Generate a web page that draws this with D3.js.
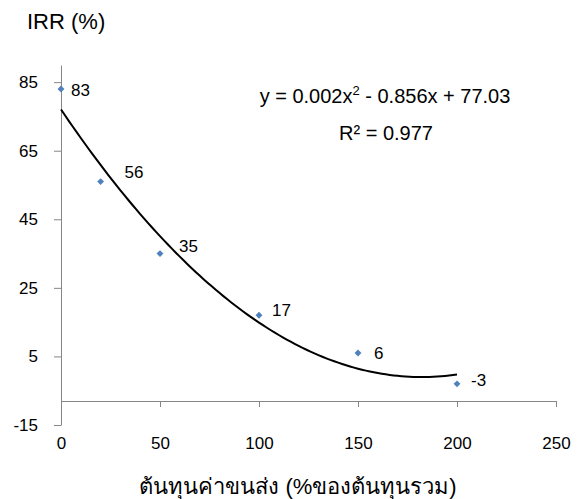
<!DOCTYPE html>
<html>
<head>
<meta charset="utf-8">
<script src="https://cdn.jsdelivr.net/npm/d3@7"></script>
<style>
  html, body { margin: 0; padding: 0; background: #fff; }
  svg { display: block; font-family: "Liberation Sans", Arial, sans-serif; }
  .tick text { fill: #000; }
</style>
</head>
<body>
<svg id="chart" width="581" height="499"></svg>
<script>
// cost share of transport (% of total cost) vs IRR
const costShare = [0, 20, 50, 100, 150, 200];
const irr = [83, 56, 35, 17, 6, -3];
const pointLabels = ["83", "56", "35", "17", "6", "-3"];
const xTicks = [0, 50, 100, 150, 200, 250];
const yTicks = [-15, 5, 25, 45, 65, 85];
const equationText = "y = 0.002x";
const equationRest = " - 0.856x + 77.03";
const r2Text = "R² = 0.977";

// label nudges (px) as placed in the original
const labelNudge = [[10, 1], [24, -10], [19, -8], [13, -5], [16, 0], [14, -4]];

const axisColor = "#868686";
const svg = d3.select("#chart");

const x = d3.scaleLinear().domain([0, 250]).range([61, 556]);
const y = d3.scaleLinear().domain([-15, 90]).range([425, 65]);
const xAxisAt = -8;

// quadratic least squares fit, same as the spreadsheet trendline
function polyFit(xs, ys) {
  const S = (f) => d3.sum(xs, (v, i) => f(v, ys[i]));
  const n = xs.length;
  const s1 = S((a) => a), s2 = S((a) => a * a), s3 = S((a) => a ** 3), s4 = S((a) => a ** 4);
  const t0 = S((a, b) => b), t1 = S((a, b) => a * b), t2 = S((a, b) => a * a * b);
  const M = [[n, s1, s2, t0], [s1, s2, s3, t1], [s2, s3, s4, t2]];
  for (let i = 0; i < 3; i++) {
    for (let k = i + 1; k < 3; k++) {
      const f = M[k][i] / M[i][i];
      for (let j = i; j < 4; j++) M[k][j] -= f * M[i][j];
    }
  }
  const c = [0, 0, 0];
  for (let i = 2; i >= 0; i--) {
    let s = M[i][3];
    for (let j = i + 1; j < 3; j++) s -= M[i][j] * c[j];
    c[i] = s / M[i][i];
  }
  return c;
}

const coef = polyFit(costShare, irr);
const trend = d3.range(0, 200.5, 2).map((v) => [v, coef[0] + coef[1] * v + coef[2] * v * v]);

//=== axes ===
const yAxis = svg.append("g")
  .attr("transform", `translate(${x(0)},0)`)
  .call(d3.axisLeft(y).tickValues(yTicks).tickFormat((d) => String(d))
    .tickSize(7).tickPadding(16).tickSizeOuter(0));
yAxis.select(".domain").attr("stroke", axisColor);
yAxis.selectAll(".tick line").attr("stroke", axisColor);
yAxis.selectAll("text").attr("font-size", 17);

const xAxis = svg.append("g")
  .attr("transform", `translate(0,${y(xAxisAt)})`)
  .call(d3.axisBottom(x).tickValues(xTicks).tickFormat((d) => String(d))
    .tickSize(6).tickPadding(30).tickSizeOuter(0));
xAxis.select(".domain").attr("stroke", axisColor);
xAxis.selectAll(".tick line").attr("stroke", axisColor);
xAxis.selectAll("text").attr("font-size", 17);

//=== trendline ===
svg.append("path")
  .datum(trend)
  .attr("fill", "none")
  .attr("stroke", "#000")
  .attr("stroke-width", 2)
  .attr("d", d3.line().x((d) => x(d[0])).y((d) => y(d[1])).curve(d3.curveMonotoneX));

//=== points ===
svg.append("g")
  .selectAll("path")
  .data(costShare)
  .join("path")
  .attr("d", d3.symbol(d3.symbolDiamond2, 30))
  .attr("transform", (d, i) => `translate(${x(d)},${y(irr[i])})`)
  .attr("fill", "#4f81bd");

svg.append("g")
  .selectAll("text")
  .data(costShare)
  .join("text")
  .attr("x", (d, i) => x(d) + labelNudge[i][0])
  .attr("y", (d, i) => y(irr[i]) + labelNudge[i][1])
  .attr("dy", "0.35em")
  .attr("font-size", 17)
  .text((d, i) => pointLabels[i]);

//=== equation ===
const eq = svg.append("text")
  .attr("x", 385)
  .attr("y", 103)
  .attr("text-anchor", "middle")
  .attr("font-size", 20);
eq.append("tspan").text(equationText);
eq.append("tspan").attr("dy", -8).attr("font-size", 13).text("2");
eq.append("tspan").attr("dy", 8).text(equationRest);

svg.append("text")
  .attr("x", 386)
  .attr("y", 140)
  .attr("text-anchor", "middle")
  .attr("font-size", 20)
  .text(r2Text);

//=== titles ===
svg.append("text")
  .attr("x", 27)
  .attr("y", 29)
  .attr("font-size", 22)
  .text("IRR (%)");

svg.append("text")
  .attr("x", 298)
  .attr("y", 494)
  .attr("text-anchor", "middle")
  .attr("font-size", 22)
  .text("ต้นทุนค่าขนส่ง (%ของต้นทุนรวม)");
</script>
</body>
</html>
